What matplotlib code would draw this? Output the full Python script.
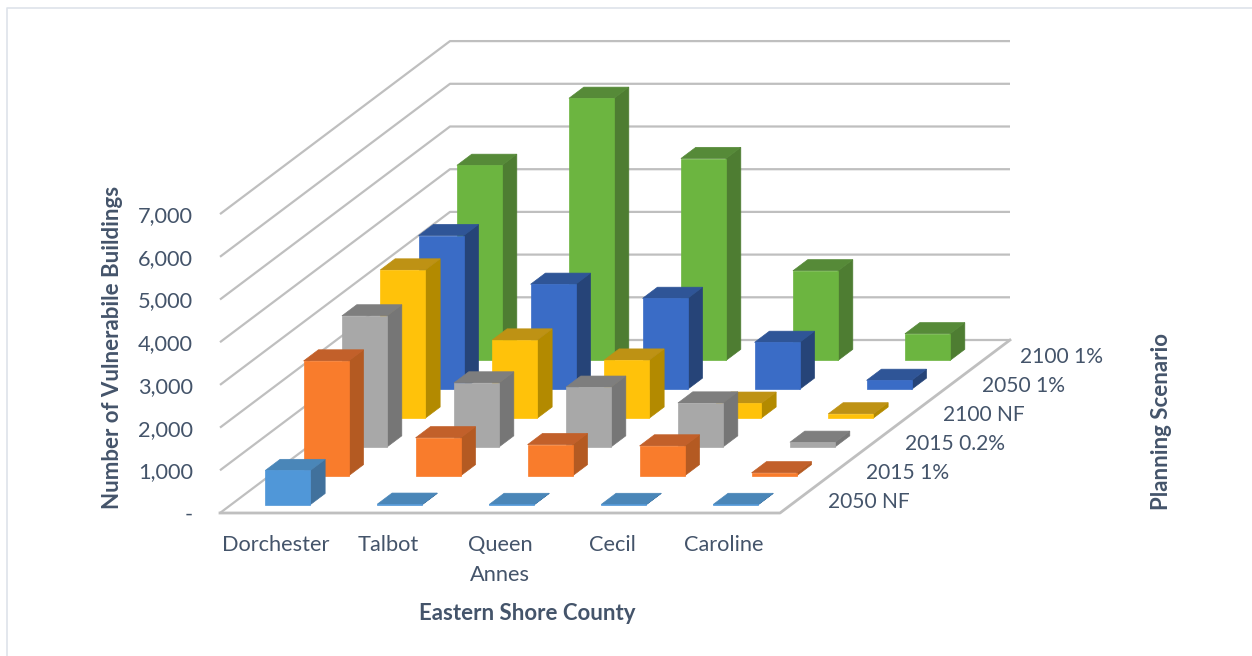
import matplotlib
matplotlib.use("Agg")
import matplotlib.pyplot as plt
from matplotlib.patches import Polygon

plt.rcParams['font.family'] = ['Lato', 'DejaVu Sans']

### DATA ###

counties = ["Dorchester", "Talbot", "Queen\nAnnes", "Cecil", "Caroline"]
scenarios = ["2050 NF", "2015 1%", "2015 0.2%", "2100 NF", "2050 1%", "2100 1%"]
y_ticks = [0, 1000, 2000, 3000, 4000, 5000, 6000, 7000]
y_tick_labels = ["-", "1,000", "2,000", "3,000", "4,000", "5,000", "6,000", "7,000"]

nf_2050 = [800, 10, 5, 5, 5]
pct1_2015 = [2690, 890, 730, 700, 70]
pct02_2015 = [3070, 1500, 1400, 1030, 110]
nf_2100 = [3470, 1830, 1360, 350, 100]
pct1_2050 = [3600, 2460, 2130, 1100, 210]
pct1_2100 = [4570, 6140, 4730, 2100, 625]
series = [nf_2050, pct1_2015, pct02_2015, nf_2100, pct1_2050, pct1_2100]

# front, side, top
colors = [
    ("#5097D8", "#41719C", "#4A86B8"),
    ("#F97C2C", "#B45A22", "#C2602A"),
    ("#A8A8A8", "#767676", "#7E7E7E"),
    ("#FFC20A", "#B38A00", "#BE9214"),
    ("#3A6CC6", "#264478", "#2F5597"),
    ("#6CB540", "#4E7D32", "#568A38"),
]

text_color = "#44546A"
grid_color = "#BFBFBF"
tick_size = 15.7
scenario_size = 15.1
title_size = 16

# oblique projection of the Excel 3D box, in image pixels
x0, y0 = 220, 513
county_dx = 112
depth_dx, depth_dy = 230 / 6, 173 / 6
px_per_unit = 42.7 / 1000
bar_w = 0.402
bar_d = 0.387
bar_u0 = 0.305
bar_v0 = 0.29


def project(u, v, h=0):
    return (x0 + county_dx * u + depth_dx * v, y0 - depth_dy * v - px_per_unit * h)


fig = plt.figure(figsize=(12.52, 6.56), dpi=100)
ax = fig.add_axes([0, 0, 1, 1])
ax.set_xlim(0, 1252)
ax.set_ylim(656, 0)
ax.axis("off")

# chart border, only top and left edges show in the crop
ax.plot([6.5, 6.5, 1252], [656, 7.5, 7.5], color="#DEE3EA", lw=1.2)

n_c, n_s = len(counties), len(scenarios)

### WALLS AND FLOOR ###

for h in y_ticks:
    pts = [project(0, 0, h), project(0, n_s, h), project(n_c, n_s, h)]
    ax.plot(*zip(*pts), color=grid_color, lw=1.6, solid_capstyle="butt", zorder=1)
pts = [project(0, 0), project(n_c, 0), project(n_c, n_s)]
ax.plot(*zip(*pts), color=grid_color, lw=2, zorder=1)

### BARS, back row first ###

z = 2
for j in reversed(range(n_s)):
    front, side, top = colors[j]
    for i in range(n_c):
        h = series[j][i]
        u = i + bar_u0
        v = j + bar_v0
        f = [project(u, v), project(u + bar_w, v), project(u + bar_w, v, h), project(u, v, h)]
        s = [project(u + bar_w, v), project(u + bar_w, v + bar_d),
             project(u + bar_w, v + bar_d, h), project(u + bar_w, v, h)]
        t = [project(u, v, h), project(u + bar_w, v, h),
             project(u + bar_w, v + bar_d, h), project(u, v + bar_d, h)]
        ax.add_patch(Polygon(s, facecolor=side, edgecolor=side, lw=0.5, zorder=z))
        ax.add_patch(Polygon(t, facecolor=top, edgecolor=top, lw=0.5, zorder=z))
        ax.add_patch(Polygon(f, facecolor=front, edgecolor=front, lw=0.5, zorder=z))
    z += 1

### TEXT ###

for h, lab in zip(y_ticks, y_tick_labels):
    x, y = project(0, 0, h)
    ax.text(x - 27, y + 2, lab, ha="right", va="center", fontsize=tick_size, color=text_color)

for i, lab in enumerate(counties):
    x, y = project(i + 0.5, 0)
    ax.text(x, y + 22, lab, ha="center", va="top", fontsize=tick_size, color=text_color,
            linespacing=1.6)

for j, lab in enumerate(scenarios):
    x, y = project(n_c, j + 0.5)
    ax.text(x + 29, y + 3, lab, ha="left", va="center", fontsize=scenario_size, color=text_color)

ax.text(527, 613, "Eastern Shore County", ha="center", va="center", fontsize=title_size,
        fontweight="bold", color=text_color)
ax.text(113, 347, "Number of Vulnerabile Buildings", ha="center", va="center", rotation=90,
        fontsize=title_size, fontweight="bold", color=text_color)
ax.text(1161, 421, "Planning Scenario", ha="center", va="center", rotation=90,
        fontsize=title_size, fontweight="bold", color=text_color)

fig.savefig("out.png", dpi=100)
